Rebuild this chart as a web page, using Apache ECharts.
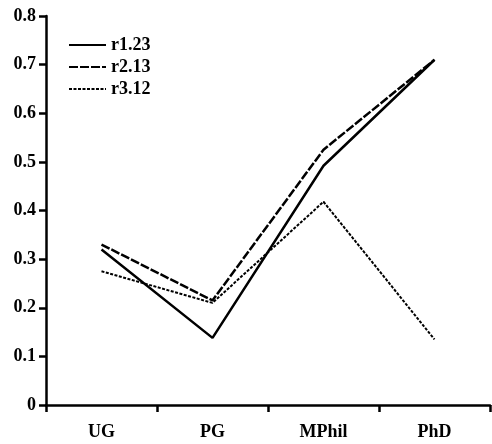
<!DOCTYPE html>
<html>
<head>
<meta charset="utf-8">
<script src="https://cdn.jsdelivr.net/npm/echarts@6/dist/echarts.min.js"></script>
<style>
  html, body { margin: 0; padding: 0; background: #fff; }
  #lineChart { width: 492px; height: 444px; }
</style>
</head>
<body>
<div id="lineChart"></div>
<script>
// categories and series values
const levels = ["UG", "PG", "MPhil", "PhD"];
const r123 = [0.32, 0.138, 0.492, 0.71];
const r213 = [0.33, 0.215, 0.525, 0.71];
const r312 = [0.275, 0.21, 0.418, 0.135];

const font = "Liberation Serif";

let chart = echarts.init(document.getElementById("lineChart"));
let option = {
  animation: false,
  color: ["#000", "#000", "#000"],
  grid: {
    left: 46,
    right: 2,
    top: 16,
    bottom: 39,
  },
  legend: {
    orient: "vertical",
    left: 63,
    top: 31,
    itemWidth: 37,
    itemHeight: 14,
    itemGap: 4,
    itemStyle: { opacity: 0 },
    textStyle: {
      fontFamily: font,
      fontWeight: "bold",
      fontSize: 18,
      color: "#000",
    },
    data: ["r1.23", "r2.13", "r3.12"],
  },
  xAxis: {
    type: "category",
    data: levels,
    boundaryGap: true,
    axisLine: { show: true, lineStyle: { color: "#000", width: 2.5 } },
    axisTick: {
      show: true,
      inside: false,
      length: 7,
      lineStyle: { color: "#000", width: 2.5 },
    },
    axisLabel: {
      margin: 18,
      fontFamily: font,
      fontWeight: "bold",
      fontSize: 18,
      color: "#000",
    },
  },
  yAxis: {
    type: "value",
    min: 0,
    max: 0.8,
    interval: 0.1,
    splitLine: { show: false },
    axisLine: { show: true, lineStyle: { color: "#000", width: 2.5 } },
    axisTick: {
      show: true,
      inside: false,
      length: 7,
      lineStyle: { color: "#000", width: 2.5 },
    },
    axisLabel: {
      margin: 10,
      fontFamily: font,
      fontWeight: "bold",
      fontSize: 18,
      color: "#000",
      formatter: (v) => (v === 0 ? "0" : v.toFixed(1)),
    },
  },
  series: [
    {
      name: "r1.23",
      type: "line",
      data: r123,
      symbol: "none",
      lineStyle: { color: "#000", width: 2.5, type: "solid" },
    },
    {
      name: "r2.13",
      type: "line",
      data: r213,
      symbol: "none",
      lineStyle: { color: "#000", width: 2.5, type: [9, 2] },
    },
    {
      name: "r3.12",
      type: "line",
      data: r312,
      symbol: "none",
      lineStyle: { color: "#000", width: 2, type: [3, 1.5] },
    },
  ],
};
chart.setOption(option);
</script>
</body>
</html>
